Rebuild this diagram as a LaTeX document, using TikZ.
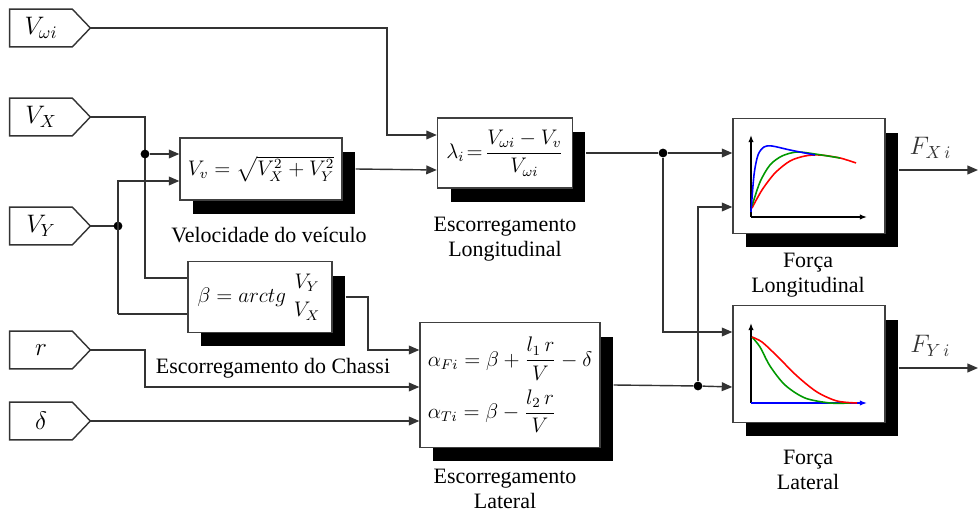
\documentclass[tikz,border=0pt]{standalone}
\usepackage{amsmath}
\usepackage{fontspec}
\setmainfont{Liberation Serif}
\usetikzlibrary{arrows.meta,positioning,calc,shadows}

\begin{document}
\begin{tikzpicture}[x=0.02cm, y=-0.02cm, font=\fontsize{12.5}{14}\selectfont,
  wire/.style={line width=0.8pt, black!80},
  arrow/.style={wire, -{Triangle[length=6pt, width=5pt]}},
  block/.style={draw=black!75, line width=0.8pt, fill=white, inner sep=2pt,
    drop shadow={shadow xshift=0.26cm, shadow yshift=-0.28cm, fill=black, opacity=1}},
  tagbox/.style={minimum width=1.24cm, minimum height=0.74cm, inner sep=0pt, font=\Large},
  jdot/.style={circle, fill=black, inner sep=0pt, minimum size=5pt},
  curve/.style={line width=0.9pt}]
\useasboundingbox (0,0) rectangle (978,513);

% entradas
\foreach \n/\y/\t in {vw/28/{V_{\omega i}}, vx/117/{V_X}, vy/226/{V_Y}, r/350/{r}, d/421/{\delta}} {
  \node[tagbox] (\n) at (41,\y) {$\t$};
  \coordinate (\n-o) at ($(\n.east)+(18,0)$);
  \draw[wire] (\n.north east) -- (\n.north west) -- (\n.south west) -- (\n.south east) -- (\n-o) -- cycle;
}

% blocos
\node[block, minimum width=3.24cm, minimum height=1.24cm] (vv) at (261,169) {\large$V_v=\sqrt{V_X^2+V_Y^2}$};
\node[block, minimum width=2.7cm, minimum height=1.4cm] (lam) at (505,153) {\large$\lambda_i\!=\!\dfrac{V_{\omega i}-V_v}{V_{\omega i}}$};
\node[block, minimum width=2.88cm, minimum height=1.42cm] (beta) at (260,297) {\large$\beta=arctg\;\genfrac{}{}{0pt}{0}{V_Y}{V_X}$};
\node[block, minimum width=3.6cm, minimum height=2.5cm, align=left] (alpha) at (510,385)
  {\large$\alpha_{Fi}=\beta+\dfrac{l_1\,r}{V}-\delta$\\[4pt] \large$\alpha_{Ti}=\beta-\dfrac{l_2\,r}{V}$};
\node[block, minimum width=3.04cm, minimum height=2.3cm] (flong) at (809,176) {};
\node[block, minimum width=3.04cm, minimum height=2.34cm] (flat) at (809,364) {};

% legendas
\node (lvv) at (269,235) {Velocidade do veículo};
\node[align=center] (llam) at (505,239) {Escorregamento\\Longitudinal};
\node (lbeta) at (273,368) {Escorregamento do Chassi};
\node[align=center] (lalpha) at (505,489) {Escorregamento\\Lateral};
\node[align=center] (lflong) at (808,275) {Força\\Longitudinal};
\node[align=center] (lflat) at (808,470) {Força\\Lateral};

% pontos de entrada
\coordinate (vv-i1) at ($(vv.west)+(0,-15)$);
\coordinate (vv-i2) at ($(vv.west)+(0,12)$);
\coordinate (lam-i1) at ($(lam.west)+(0,-18)$);
\coordinate (lam-i2) at ($(lam.west)+(0,17)$);
\coordinate (beta-i1) at ($(beta.west)+(0,-19)$);
\coordinate (beta-i2) at ($(beta.west)+(0,17)$);
\coordinate (alpha-i1) at ($(alpha.west)+(0,-35)$);
\coordinate (alpha-i2) at ($(alpha.west)+(0,2)$);
\coordinate (alpha-i3) at ($(alpha.west)+(0,36)$);
\coordinate (flong-i1) at ($(flong.west)+(0,-23)$);
\coordinate (flong-i2) at ($(flong.west)+(0,31)$);
\coordinate (flat-i1) at ($(flat.west)+(0,-32)$);
\coordinate (flat-i2) at ($(flat.west)+(0,23)$);

% ligacoes
\draw[arrow] (vw-o) -| (387,135) -- (lam-i1);
\draw[wire] (vx-o) -| (145,278) -- (beta-i1);
\node[jdot] (j1) at (145,154) {};
\draw[arrow] (j1) -- (vv-i1);
\draw[wire] (vy-o) -- (118,226);
\node[jdot] (j2) at (118,226) {};
\draw[arrow] (118,314) -- (118,181) -- (vv-i2);
\draw[wire] (118,314) -- (beta-i2);
\draw[arrow] ($(vv.east)+(13,0)$) -- (lam-i2);
\draw[arrow] ($(beta.east)+(13,0)$) -| (368,350) -- (alpha-i1);
\draw[arrow] (r-o) -| (145,387) -- (alpha-i2);
\draw[arrow] (d-o) -- (alpha-i3);

\node[jdot] (j3) at (663,153) {};
\node[jdot] (j4) at (698,386) {};
\draw[wire] ($(lam.east)+(13,0)$) -- (j3);
\draw[arrow] (j3) -- (flong-i1);
\draw[arrow] (j3) |- (flat-i1);
\draw[wire] ($(alpha.east)+(13,0)$) -- (j4);
\draw[arrow] (j4) -- (flat-i2);
\draw[arrow] (j4) |- (flong-i2);

\draw[arrow] ($(flong.east)+(13,-6)$) -- (978,170) node[pos=0.4, above=3pt] (fx) {\Large$F_{X\,i}$};
\draw[arrow] ($(flat.east)+(13,4)$) -- (978,368) node[pos=0.4, above=3pt] (fy) {\Large$F_{Y\,i}$};

% curvas longitudinais
\draw[-{Latex[length=4pt]}, line width=0.8pt] (751,217) -- (751,135);
\draw[-{Latex[length=4pt]}, line width=0.8pt] (751,217) -- (867,217);
\draw[curve, red] plot[smooth] coordinates {(752,208) (762,190) (775,173) (790,161) (805,156) (820,155) (840,158) (856,163)};
\draw[curve, green!60!black] plot[smooth] coordinates {(752,206) (760,182) (770,165) (782,156) (797,152) (815,154) (840,158)};
\draw[curve, blue] plot[smooth] coordinates {(751,212) (754,175) (758,155) (764,147) (772,146) (790,150) (815,155)};

% curvas laterais
\draw[-{Latex[length=4pt]}, line width=0.8pt] (751,403) -- (751,323);
\draw[-{Latex[length=4pt]}, line width=0.8pt, blue] (751,403) -- (867,403);
\draw[curve, green!60!black] plot[smooth] coordinates {(752,337) (760,347) (770,366) (785,385) (805,398) (830,403) (850,403)};
\draw[curve, red] plot[smooth] coordinates {(752,337) (762,342) (777,356) (797,376) (817,392) (837,401) (857,403)};
\end{tikzpicture}
\end{document}
